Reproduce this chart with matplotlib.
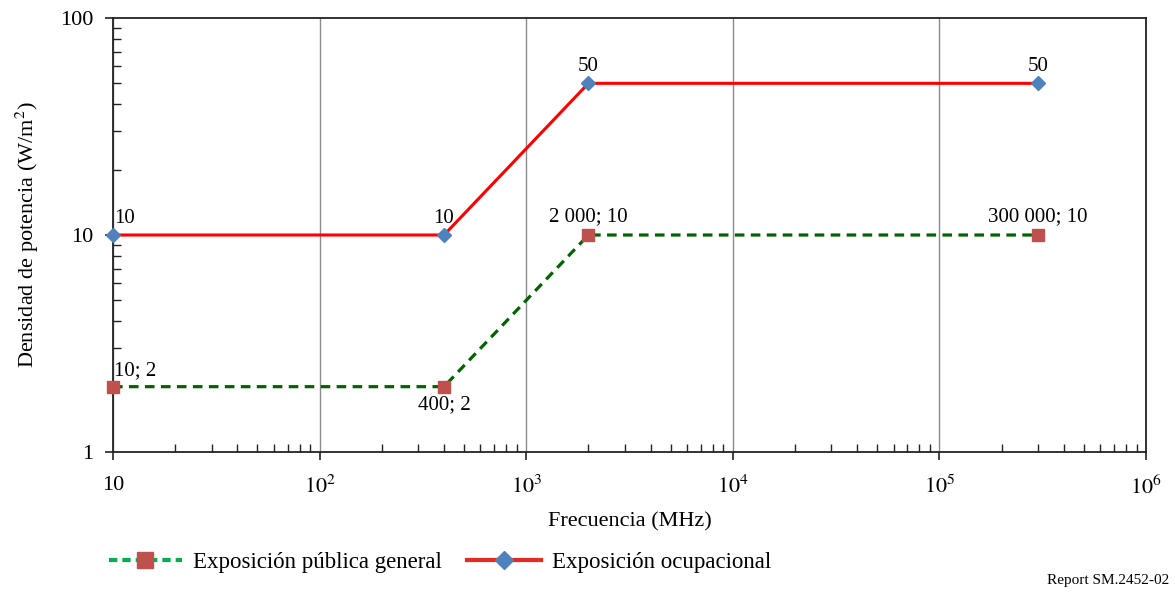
import matplotlib
matplotlib.use("Agg")
import matplotlib.pyplot as plt
from matplotlib.lines import Line2D
from matplotlib.ticker import LogLocator, FixedLocator, NullFormatter

# --- Andmed ---
freq_pub = [10, 400, 2000, 300000]
dens_pub = [2, 2, 10, 10]
lbl_pub = ["10; 2", "400; 2", "2 000; 10", "300 000; 10"]

freq_occ = [10, 400, 2000, 300000]
dens_occ = [10, 10, 50, 50]
lbl_occ = ["10", "10", "50", "50"]

xticks = [10, 1e2, 1e3, 1e4, 1e5, 1e6]
xtick_labels = ["10", "$10^{2}$", "$10^{3}$", "$10^{4}$", "$10^{5}$", "$10^{6}$"]
yticks = [1, 10, 100]
ytick_labels = ["1", "10", "100"]

plt.rcParams["font.family"] = ["Liberation Serif", "DejaVu Serif"]
plt.rcParams["mathtext.fontset"] = "stix"

fig = plt.figure(figsize=(11.75, 5.93), dpi=100)
ax = fig.add_axes([0.0962, 0.2378, 0.8791, 0.7318])

ax.set_xscale("log")
ax.set_yscale("log")
ax.set_xlim(10, 1e6)
ax.set_ylim(1, 100)

# vertikaalne ruudustik
ax.xaxis.grid(True, which="major", color="#8c8c8c", linewidth=1)
ax.set_axisbelow(True)

ax.plot(freq_occ, dens_occ, color="#ff0000", linewidth=2.2, marker="D",
        markersize=7, markerfacecolor="#4f81bd", markeredgecolor="#4f81bd",
        clip_on=False, zorder=3)
ax.plot(freq_pub, dens_pub, color="#006400", linewidth=2.3, linestyle=(0, (3, 2)),
        marker="s", markersize=9, markerfacecolor="#c0504d",
        markeredgecolor="#c0504d", clip_on=False, zorder=3)

# andmesildid
FS_ANN = 15
for x, y, t in zip(freq_occ, dens_occ, lbl_occ):
    if x == 10:
        ax.annotate(t, (x, y), xytext=(1, 5), textcoords="offset points",
                    ha="left", va="bottom", fontsize=FS_ANN)
    else:
        ax.annotate(t, (x, y), xytext=(0, 5), textcoords="offset points",
                    ha="center", va="bottom", fontsize=FS_ANN)
for x, y, t in zip(freq_pub, dens_pub, lbl_pub):
    if x == 10:
        ax.annotate(t, (x, y), xytext=(1, 5), textcoords="offset points",
                    ha="left", va="bottom", fontsize=FS_ANN)
    elif x == 400:
        ax.annotate(t, (x, y), xytext=(0, -6), textcoords="offset points",
                    ha="center", va="top", fontsize=FS_ANN)
    else:
        ax.annotate(t, (x, y), xytext=(0, 6), textcoords="offset points",
                    ha="center", va="bottom", fontsize=FS_ANN)

# teljed
ax.xaxis.set_major_locator(FixedLocator(xticks))
ax.set_xticklabels(xtick_labels, fontsize=16)
ax.xaxis.set_minor_locator(LogLocator(base=10, subs=range(2, 10)))
ax.xaxis.set_minor_formatter(NullFormatter())
ax.yaxis.set_major_locator(FixedLocator(yticks))
ax.set_yticklabels(ytick_labels, fontsize=16)
ax.yaxis.set_minor_locator(LogLocator(base=10, subs=range(2, 10)))
ax.yaxis.set_minor_formatter(NullFormatter())

ax.tick_params(which="major", direction="out", length=6, width=1.2, color="#222222")
ax.tick_params(axis="x", which="major", pad=11)
ax.tick_params(axis="y", which="major", pad=8)
ax.tick_params(which="minor", direction="in", length=6, width=1, color="#222222")

for s in ax.spines.values():
    s.set_color("#222222")
    s.set_linewidth(1.3)

ax.set_xlabel("Frecuencia (MHz)", fontsize=16, labelpad=10)
ax.set_ylabel("Densidad de potencia (W/m$^{2}$)", fontsize=16, labelpad=14)

# legend
h_pub = Line2D([], [], color="#00b050", linewidth=3, linestyle=(0, (2, 1.2)),
               marker="s", markersize=11, markerfacecolor="#c0504d",
               markeredgecolor="#c0504d")
h_occ = Line2D([], [], color="#e52a20", linewidth=3, marker="D", markersize=9,
               markerfacecolor="#4f81bd", markeredgecolor="#4f81bd")
fig.legend([h_pub, h_occ], ["Exposición pública general", "Exposición ocupacional"],
           loc="center", bbox_to_anchor=(0.3745, 0.052), ncol=2, frameon=False,
           fontsize=16.5, handlelength=3.2, columnspacing=1.1, handletextpad=0.5)

fig.text(0.995, 0.01, "Report SM.2452-02", ha="right", va="bottom", fontsize=11)

fig.savefig("out.png", dpi=100)
